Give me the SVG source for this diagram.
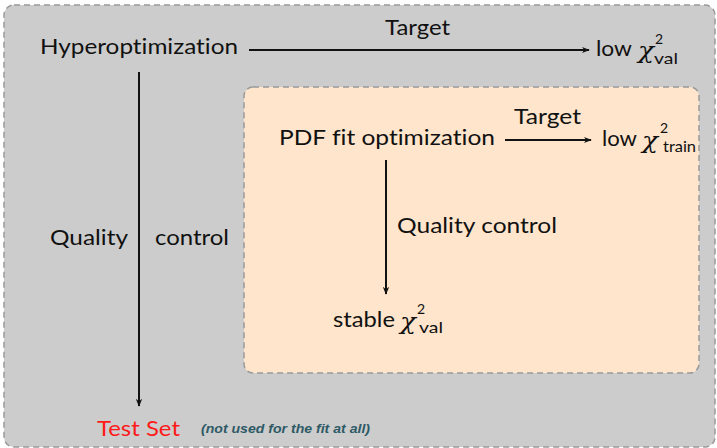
<svg xmlns="http://www.w3.org/2000/svg" width="717" height="448" viewBox="0 0 717 448">
<defs>
<marker id="ah" viewBox="0 0 10 10" refX="9" refY="5" markerWidth="8" markerHeight="8" markerUnits="userSpaceOnUse" orient="auto">
<path d="M0,1 L10,5 L0,9 L3,5 Z" fill="#111"/>
</marker>
<style>
.t{font-family:Lato,"Open Sans",sans-serif;font-size:22px;fill:#111;font-variant-ligatures:none}
.chi{font-family:"DejaVu Serif",serif;font-style:italic;font-size:23px;fill:#111}
.sub{font-family:Lato,"Open Sans",sans-serif;font-size:16px;fill:#111}
.sup{font-family:Lato,"Open Sans",sans-serif;font-size:14px;fill:#111}
.ln{stroke:#111;stroke-width:2;fill:none}
.box{stroke:#999;stroke-width:1.5;stroke-dasharray:6 4}
</style>
</defs>
<rect width="717" height="448" fill="#ffffff"/>
<g id="outer">
<rect class="box" x="4" y="5" width="711" height="442" rx="10" fill="#cccccc"/>
</g>
<g id="inner">
<rect class="box" x="244" y="87" width="455" height="286" rx="9" fill="#fee5cc"/>
</g>
<g id="hyperopt"><text class="t" x="40" y="54" textLength="198" lengthAdjust="spacingAndGlyphs">Hyperoptimization</text></g>
<g id="lowval">
<text class="t" x="596" y="56" textLength="36" lengthAdjust="spacingAndGlyphs">low</text>
<text class="chi" x="638" y="58" textLength="16" lengthAdjust="spacingAndGlyphs">χ</text>
<text class="sup" x="655" y="44">2</text>
<text class="sub" x="654" y="64" textLength="24" lengthAdjust="spacingAndGlyphs">val</text>
</g>
<g id="pdffit"><text class="t" x="279" y="145" textLength="216" lengthAdjust="spacingAndGlyphs">PDF fit optimization</text></g>
<g id="lowtrain">
<text class="t" x="602" y="146" textLength="35" lengthAdjust="spacingAndGlyphs">low</text>
<text class="chi" x="642" y="148" textLength="16" lengthAdjust="spacingAndGlyphs">χ</text>
<text class="sup" x="660" y="133">2</text>
<text class="sub" x="663" y="152" textLength="33" lengthAdjust="spacingAndGlyphs">train</text>
</g>
<g id="stable">
<text class="t" x="333" y="327" textLength="62" lengthAdjust="spacingAndGlyphs">stable</text>
<text class="chi" x="400" y="329" textLength="16" lengthAdjust="spacingAndGlyphs">χ</text>
<text class="sup" x="417" y="314">2</text>
<text class="sub" x="419" y="333" textLength="24" lengthAdjust="spacingAndGlyphs">val</text>
</g>
<g id="testset"><text class="t" x="97" y="436" style="fill:#ff1a1a" textLength="83" lengthAdjust="spacingAndGlyphs">Test Set</text>
<text x="201" y="433" font-family="'Liberation Sans',sans-serif" font-size="13" font-weight="bold" font-style="italic" fill="#2e5a66" textLength="169" lengthAdjust="spacingAndGlyphs">(not used for the fit at all)</text></g>
<g id="connectors">
<line class="ln" x1="249" y1="50" x2="589" y2="50" marker-end="url(#ah)"/>
<text class="t" x="385" y="35" textLength="65" lengthAdjust="spacingAndGlyphs">Target</text>
<line class="ln" x1="139" y1="72" x2="139" y2="406" marker-end="url(#ah)"/>
<text class="t" x="50" y="245" textLength="78" lengthAdjust="spacingAndGlyphs">Quality</text>
<text class="t" x="155" y="245" textLength="74" lengthAdjust="spacingAndGlyphs">control</text>
<line class="ln" x1="505" y1="140" x2="591" y2="140" marker-end="url(#ah)"/>
<text class="t" x="514" y="124" textLength="67" lengthAdjust="spacingAndGlyphs">Target</text>
<line class="ln" x1="386" y1="160" x2="386" y2="294" marker-end="url(#ah)"/>
<text class="t" x="397" y="233" textLength="160" lengthAdjust="spacingAndGlyphs">Quality control</text>
</g>
</svg>
